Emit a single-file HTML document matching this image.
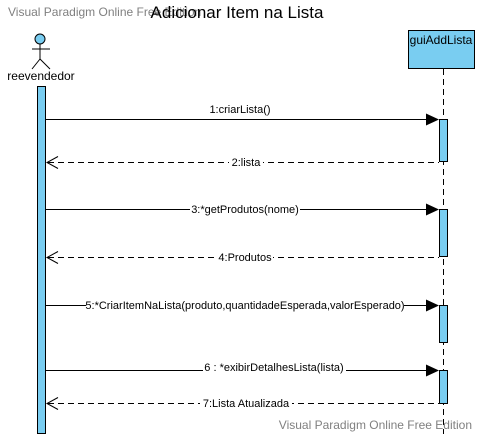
<!DOCTYPE html>
<html><head><style>body{margin:0;background:#fff}svg{display:block}</style></head><body>
<svg width="478" height="434" xmlns="http://www.w3.org/2000/svg" font-family="Liberation Sans, Arial, sans-serif">
<text x="8" y="16" font-size="12" fill="#808080">Visual Paradigm Online Free Edition</text>
<text x="237" y="18" font-size="17" text-anchor="middle" fill="#000">Adicionar Item na Lista</text>
<circle cx="40" cy="39" r="5" fill="#79cdf1" stroke="#000"/>
<line x1="40" y1="44" x2="40" y2="59" stroke="#000"/>
<line x1="32" y1="49" x2="50" y2="49" stroke="#000"/>
<line x1="40" y1="59" x2="32" y2="69" stroke="#000"/>
<line x1="40" y1="59" x2="50" y2="69" stroke="#000"/>
<text x="41" y="80" font-size="12" text-anchor="middle">reevendedor</text>
<rect x="37.5" y="86.5" width="8" height="347" fill="#79cdf1" stroke="#000"/>
<rect x="408.5" y="30.5" width="66" height="38" fill="#79cdf1" stroke="#000"/>
<text x="441" y="44" font-size="12" text-anchor="middle">guiAddLista</text>
<line x1="443.5" y1="69" x2="443.5" y2="434" stroke="#000" stroke-dasharray="6,4"/>
<g fill="#79cdf1" stroke="#000">
<rect x="439.5" y="119.5" width="8" height="42"/>
<rect x="439.5" y="209.5" width="8" height="47"/>
<rect x="439.5" y="305.5" width="8" height="37"/>
<rect x="439.5" y="370.5" width="8" height="33"/>
</g>
<g stroke="#000" fill="none">
<line x1="46" y1="119.5" x2="428" y2="119.5"/>
<line x1="46" y1="209.5" x2="428" y2="209.5"/>
<line x1="46" y1="305.5" x2="428" y2="305.5"/>
<line x1="46" y1="370.5" x2="428" y2="370.5"/>
<g stroke-dasharray="6,4">
<line x1="48" y1="162.5" x2="439" y2="162.5"/>
<line x1="48" y1="257.5" x2="439" y2="257.5"/>
<line x1="48" y1="403.5" x2="439" y2="403.5"/>
</g>
<path d="M58 156.5 L47 162.5 L58 168.5"/>
<path d="M58 251.5 L47 257.5 L58 263.5"/>
<path d="M58 397.5 L47 403.5 L58 409.5"/>
</g>
<g fill="#000">
<path d="M426 113.5 L439 119.5 L426 125.5Z"/>
<path d="M426 203.5 L439 209.5 L426 215.5Z"/>
<path d="M426 299.5 L439 305.5 L426 311.5Z"/>
<path d="M426 364.5 L439 370.5 L426 376.5Z"/>
</g>
<g font-size="11" text-anchor="middle">
<text x="240" y="113">1:criarLista()</text>
<rect x="229" y="156" width="34" height="12" fill="#fff"/><text x="246" y="166">2:lista</text>
<rect x="190" y="203" width="110" height="12" fill="#fff"/><text x="245" y="213">3:*getProdutos(nome)</text>
<rect x="217" y="251" width="56" height="12" fill="#fff"/><text x="245" y="261">4:Produtos</text>
<rect x="86" y="299" width="318" height="12" fill="#fff"/><text x="245" y="309">5:*CriarItemNaLista(produto,quantidadeEsperada,valorEsperado)</text>
<rect x="203" y="364" width="143" height="12" fill="#fff"/><text x="274" y="371">6 : *exibirDetalhesLista(lista)</text>
<rect x="200" y="397" width="92" height="12" fill="#fff"/><text x="246" y="407">7:Lista Atualizada</text>
</g>
<text x="472" y="429" font-size="12" fill="#808080" text-anchor="end">Visual Paradigm Online Free Edition</text>
</svg>
</body></html>
